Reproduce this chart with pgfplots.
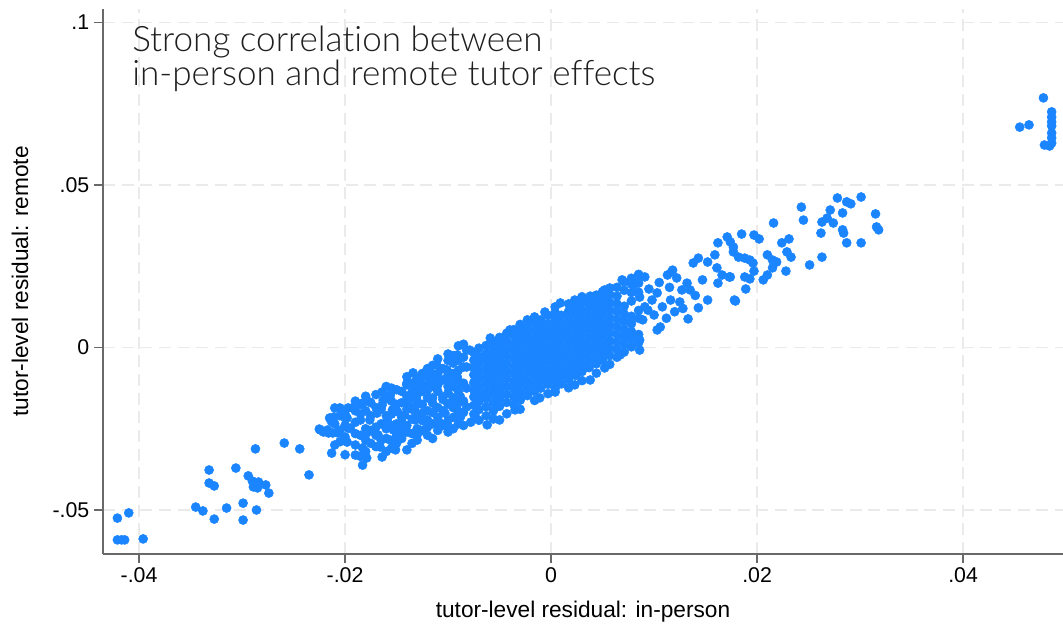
\documentclass[border=0pt]{standalone}
\usepackage{pgfplots}
\pgfplotsset{compat=1.18}
\usepackage{fontspec}
\setmainfont{Liberation Sans}
\newfontfamily\titlefont{Lato Light}[Ligatures=NoCommon]
\definecolor{dotblue}{RGB}{26,133,255}
\definecolor{gridgray}{RGB}{234,234,234}
\definecolor{axgray}{RGB}{105,105,105}
\pgfplotstableread{
x y
-0.0421 -0.0525
-0.0410 -0.0509
-0.0421 -0.0592
-0.0417 -0.0592
-0.0414 -0.0592
-0.0396 -0.0589
-0.0345 -0.0491
-0.0338 -0.0503
-0.0327 -0.0528
-0.0332 -0.0377
-0.0332 -0.0417
-0.0327 -0.0426
-0.0315 -0.0494
-0.0306 -0.0371
-0.0299 -0.0479
-0.0299 -0.0531
-0.0286 -0.0500
-0.0294 -0.0395
-0.0290 -0.0411
-0.0289 -0.0429
-0.0284 -0.0414
-0.0285 -0.0432
-0.0277 -0.0423
-0.0274 -0.0448
-0.0287 -0.0312
-0.0259 -0.0294
-0.0244 -0.0312
-0.0235 -0.0392
-0.0213 -0.0325
-0.0225 -0.0251
-0.0221 -0.0260
-0.0216 -0.0263
-0.0212 -0.0263
-0.0207 -0.0263
-0.0211 -0.0214
-0.0210 -0.0186
-0.0205 -0.0186
-0.0198 -0.0217
-0.0198 -0.0291
-0.0197 -0.0186
-0.0197 -0.0248
-0.0213 -0.0229
-0.0224 -0.0254
-0.0215 -0.0217
-0.0217 -0.0254
-0.0207 -0.0260
-0.0200 -0.0217
-0.0193 -0.0186
-0.0195 -0.0248
-0.0190 -0.0331
-0.0183 -0.0309
-0.0179 -0.0340
-0.0183 -0.0362
-0.0183 -0.0171
-0.0176 -0.0168
-0.0176 -0.0223
-0.0185 -0.0223
-0.0179 -0.0263
-0.0168 -0.0269
-0.0169 -0.0202
-0.0164 -0.0137
-0.0164 -0.0177
-0.0156 -0.0146
-0.0159 -0.0223
-0.0154 -0.0192
-0.0166 -0.0306
-0.0164 -0.0337
-0.0156 -0.0285
-0.0151 -0.0315
-0.0153 -0.0254
-0.0147 -0.0275
-0.0145 -0.0229
-0.0142 -0.0208
-0.0149 -0.0198
-0.0139 -0.0171
-0.0145 -0.0254
-0.0135 -0.0137
-0.0134 -0.0078
-0.0127 -0.0115
-0.0130 -0.0146
-0.0132 -0.0183
-0.0132 -0.0223
-0.0130 -0.0269
-0.0125 -0.0202
-0.0120 -0.0131
-0.0117 -0.0078
-0.0111 -0.0054
-0.0120 -0.0223
-0.0115 -0.0171
-0.0113 -0.0122
-0.0117 -0.0100
-0.0108 -0.0100
-0.0105 -0.0152
-0.0108 -0.0232
-0.0100 -0.0245
-0.0103 -0.0202
-0.0101 -0.0069
-0.0098 -0.0106
-0.0095 -0.0048
-0.0091 -0.0023
-0.0091 -0.0091
-0.0088 -0.0152
-0.0091 -0.0192
-0.0088 -0.0214
-0.0082 -0.0008
-0.0082 -0.0060
-0.0082 -0.0125
-0.0082 -0.0183
-0.0091 -0.0125
-0.0098 -0.0171
-0.0134 -0.0109
-0.0127 -0.0100
-0.0140 -0.0115
-0.0163 -0.0162
-0.0210 -0.0300
-0.0210 -0.0235
-0.0200 -0.0330
-0.0200 -0.0275
-0.0200 -0.0240
-0.0200 -0.0205
-0.0190 -0.0300
-0.0190 -0.0265
-0.0190 -0.0230
-0.0190 -0.0195
-0.0190 -0.0165
-0.0180 -0.0320
-0.0180 -0.0285
-0.0180 -0.0250
-0.0180 -0.0195
-0.0180 -0.0150
-0.0170 -0.0305
-0.0170 -0.0270
-0.0170 -0.0245
-0.0170 -0.0185
-0.0170 -0.0145
-0.0160 -0.0320
-0.0160 -0.0280
-0.0160 -0.0250
-0.0160 -0.0210
-0.0160 -0.0155
-0.0160 -0.0120
-0.0150 -0.0295
-0.0150 -0.0270
-0.0150 -0.0235
-0.0150 -0.0175
-0.0150 -0.0130
-0.0140 -0.0315
-0.0140 -0.0260
-0.0140 -0.0240
-0.0140 -0.0190
-0.0140 -0.0150
-0.0140 -0.0110
-0.0140 -0.0090
-0.0130 -0.0285
-0.0130 -0.0250
-0.0130 -0.0205
-0.0130 -0.0165
-0.0130 -0.0125
-0.0130 -0.0095
-0.0120 -0.0270
-0.0120 -0.0245
-0.0120 -0.0195
-0.0120 -0.0155
-0.0120 -0.0115
-0.0120 -0.0090
-0.0120 -0.0065
-0.0110 -0.0255
-0.0110 -0.0215
-0.0110 -0.0185
-0.0110 -0.0135
-0.0110 -0.0115
-0.0110 -0.0080
-0.0110 -0.0035
-0.0100 -0.0260
-0.0100 -0.0225
-0.0100 -0.0175
-0.0100 -0.0140
-0.0100 -0.0120
-0.0100 -0.0085
-0.0100 -0.0040
-0.0100 -0.0020
-0.0090 -0.0235
-0.0090 -0.0205
-0.0090 -0.0170
-0.0090 -0.0135
-0.0090 -0.0105
-0.0090 -0.0070
-0.0090 -0.0040
-0.0090 0.0005
-0.0205 -0.0290
-0.0205 -0.0255
-0.0205 -0.0210
-0.0185 -0.0270
-0.0185 -0.0205
-0.0185 -0.0175
-0.0185 -0.0335
-0.0175 -0.0295
-0.0175 -0.0255
-0.0175 -0.0210
-0.0175 -0.0170
-0.0165 -0.0285
-0.0165 -0.0235
-0.0165 -0.0190
-0.0155 -0.0310
-0.0155 -0.0240
-0.0155 -0.0205
-0.0155 -0.0165
-0.0155 -0.0125
-0.0145 -0.0280
-0.0145 -0.0215
-0.0145 -0.0170
-0.0145 -0.0135
-0.0135 -0.0295
-0.0135 -0.0265
-0.0135 -0.0220
-0.0135 -0.0190
-0.0135 -0.0155
-0.0135 -0.0115
-0.0125 -0.0255
-0.0125 -0.0225
-0.0125 -0.0175
-0.0125 -0.0135
-0.0125 -0.0080
-0.0115 -0.0280
-0.0115 -0.0235
-0.0115 -0.0200
-0.0115 -0.0155
-0.0115 -0.0095
-0.0115 -0.0055
-0.0105 -0.0240
-0.0105 -0.0195
-0.0105 -0.0160
-0.0105 -0.0100
-0.0105 -0.0065
-0.0095 -0.0250
-0.0095 -0.0215
-0.0095 -0.0185
-0.0095 -0.0155
-0.0095 -0.0120
-0.0095 -0.0080
-0.0095 -0.0025
-0.0085 -0.0240
-0.0085 -0.0200
-0.0085 -0.0165
-0.0085 -0.0110
-0.0085 -0.0060
-0.0085 -0.0030
-0.0085 0.0010
-0.0078 -0.0230
-0.0075 -0.0205
-0.0075 -0.0178
-0.0075 -0.0152
-0.0075 -0.0131
-0.0075 -0.0108
-0.0075 -0.0084
-0.0075 -0.0061
-0.0075 -0.0039
-0.0075 -0.0015
-0.0070 -0.0224
-0.0070 -0.0191
-0.0070 -0.0166
-0.0070 -0.0143
-0.0070 -0.0119
-0.0070 -0.0095
-0.0070 -0.0072
-0.0070 -0.0048
-0.0070 -0.0027
-0.0070 -0.0002
-0.0063 -0.0210
-0.0063 -0.0182
-0.0063 -0.0157
-0.0063 -0.0134
-0.0063 -0.0110
-0.0063 -0.0087
-0.0063 -0.0064
-0.0063 -0.0041
-0.0063 -0.0018
-0.0063 0.0006
-0.0056 -0.0220
-0.0056 -0.0195
-0.0056 -0.0170
-0.0056 -0.0145
-0.0056 -0.0122
-0.0056 -0.0098
-0.0056 -0.0075
-0.0056 -0.0052
-0.0056 -0.0029
-0.0056 -0.0006
-0.0056 0.0017
-0.0050 -0.0181
-0.0050 -0.0156
-0.0050 -0.0132
-0.0050 -0.0109
-0.0050 -0.0085
-0.0050 -0.0062
-0.0050 -0.0039
-0.0050 -0.0015
-0.0050 0.0009
-0.0050 0.0031
-0.0043 -0.0204
-0.0043 -0.0169
-0.0043 -0.0144
-0.0043 -0.0120
-0.0043 -0.0096
-0.0043 -0.0073
-0.0043 -0.0050
-0.0043 -0.0026
-0.0043 -0.0003
-0.0043 0.0020
-0.0043 0.0044
-0.0036 -0.0176
-0.0036 -0.0152
-0.0036 -0.0128
-0.0036 -0.0105
-0.0036 -0.0081
-0.0036 -0.0058
-0.0036 -0.0034
-0.0036 -0.0011
-0.0036 0.0012
-0.0036 0.0036
-0.0036 0.0055
-0.0030 -0.0190
-0.0030 -0.0160
-0.0030 -0.0137
-0.0030 -0.0113
-0.0030 -0.0090
-0.0030 -0.0066
-0.0030 -0.0043
-0.0030 -0.0020
-0.0030 0.0004
-0.0030 0.0027
-0.0030 0.0050
-0.0030 0.0071
-0.0023 -0.0148
-0.0023 -0.0124
-0.0023 -0.0101
-0.0023 -0.0077
-0.0023 -0.0054
-0.0023 -0.0031
-0.0023 -0.0007
-0.0023 0.0016
-0.0023 0.0039
-0.0023 0.0062
-0.0016 -0.0163
-0.0016 -0.0135
-0.0016 -0.0112
-0.0016 -0.0088
-0.0016 -0.0065
-0.0016 -0.0042
-0.0016 -0.0018
-0.0016 0.0005
-0.0016 0.0028
-0.0016 0.0052
-0.0016 0.0076
-0.0016 0.0094
-0.0010 -0.0125
-0.0010 -0.0101
-0.0010 -0.0078
-0.0010 -0.0055
-0.0010 -0.0031
-0.0010 -0.0008
-0.0010 0.0015
-0.0010 0.0039
-0.0010 0.0062
-0.0010 0.0085
-0.0003 -0.0142
-0.0003 -0.0113
-0.0003 -0.0090
-0.0003 -0.0067
-0.0003 -0.0043
-0.0003 -0.0020
-0.0003 0.0003
-0.0003 0.0027
-0.0003 0.0050
-0.0003 0.0073
-0.0003 0.0099
0.0004 -0.0126
0.0004 -0.0102
0.0004 -0.0079
0.0004 -0.0055
0.0004 -0.0032
0.0004 -0.0009
0.0004 0.0015
0.0004 0.0038
0.0004 0.0061
0.0004 0.0085
0.0004 0.0108
0.0004 0.0125
0.0010 -0.0112
0.0010 -0.0088
0.0010 -0.0065
0.0010 -0.0041
0.0010 -0.0018
0.0010 0.0005
0.0010 0.0029
0.0010 0.0052
0.0010 0.0075
0.0010 0.0099
0.0017 -0.0124
0.0017 -0.0099
0.0017 -0.0076
0.0017 -0.0053
0.0017 -0.0029
0.0017 -0.0006
0.0017 0.0018
0.0017 0.0041
0.0017 0.0064
0.0017 0.0088
0.0017 0.0111
0.0017 0.0134
0.0024 -0.0086
0.0024 -0.0063
0.0024 -0.0040
0.0024 -0.0016
0.0024 0.0007
0.0024 0.0030
0.0024 0.0054
0.0024 0.0077
0.0024 0.0101
0.0024 0.0124
0.0030 -0.0102
0.0030 -0.0074
0.0030 -0.0051
0.0030 -0.0027
0.0030 -0.0004
0.0030 0.0019
0.0030 0.0043
0.0030 0.0066
0.0030 0.0089
0.0030 0.0113
0.0030 0.0138
0.0030 0.0156
0.0037 -0.0062
0.0037 -0.0039
0.0037 -0.0015
0.0037 0.0008
0.0037 0.0031
0.0037 0.0055
0.0037 0.0078
0.0037 0.0101
0.0037 0.0125
0.0037 0.0146
0.0044 -0.0079
0.0044 -0.0050
0.0044 -0.0027
0.0044 -0.0003
0.0044 0.0020
0.0044 0.0043
0.0044 0.0067
0.0044 0.0090
0.0044 0.0113
0.0044 0.0137
0.0044 0.0161
0.0050 -0.0038
0.0050 -0.0014
0.0050 0.0009
0.0050 0.0032
0.0050 0.0056
0.0050 0.0079
0.0050 0.0103
0.0050 0.0126
0.0050 0.0149
0.0050 0.0172
0.0057 -0.0052
0.0057 -0.0025
0.0057 -0.0002
0.0057 0.0021
0.0057 0.0045
0.0057 0.0068
0.0057 0.0091
0.0057 0.0115
0.0057 0.0138
0.0057 0.0162
0.0057 0.0183
0.0064 -0.0030
0.0064 -0.0006
0.0064 0.0017
0.0064 0.0041
0.0064 0.0064
0.0064 0.0087
0.0064 0.0111
0.0064 0.0134
0.0064 0.0158
0.0064 0.0185
0.0071 -0.0014
0.0071 0.0010
0.0071 0.0033
0.0071 0.0056
0.0071 0.0080
0.0071 0.0103
0.0071 0.0127
0.0071 0.0176
0.0071 0.0202
0.0078 0.0002
0.0078 0.0026
0.0078 0.0049
0.0078 0.0073
0.0078 0.0096
0.0078 0.0143
0.0078 0.0169
0.0078 0.0195
0.0078 0.0213
0.0085 0.0015
0.0085 0.0040
0.0085 0.0090
0.0085 0.0114
0.0085 0.0170
0.0085 0.0198
0.0085 0.0225
-0.0074 -0.0208
-0.0062 -0.0238
-0.0050 -0.0223
-0.0035 -0.0192
-0.0030 -0.0162
-0.0011 -0.0155
0.0004 -0.0137
0.0023 -0.0115
0.0038 -0.0100
0.0052 -0.0063
0.0067 -0.0023
0.0086 -0.0008
-0.0079 -0.0008
-0.0059 0.0029
-0.0040 0.0054
-0.0023 0.0085
-0.0006 0.0109
0.0009 0.0137
0.0023 0.0146
0.0038 0.0158
0.0052 0.0177
0.0031 0.0140
0.0069 0.0208
0.0084 0.0217
0.0091 0.0217
0.0080 0.0192
0.0103 0.0168
0.0098 0.0146
0.0091 0.0125
0.0108 0.0125
0.0106 0.0063
0.0116 0.0146
0.0117 0.0232
0.0122 0.0214
0.0127 0.0177
0.0132 0.0198
0.0125 0.0140
0.0135 0.0177
0.0133 0.0088
0.0143 0.0122
0.0147 0.0208
0.0152 0.0146
0.0143 0.0275
0.0138 0.0260
0.0152 0.0263
0.0159 0.0285
0.0161 0.0245
0.0166 0.0223
0.0162 0.0198
0.0173 0.0217
0.0178 0.0146
0.0162 0.0322
0.0171 0.0340
0.0177 0.0309
0.0086 0.0155
0.0094 0.0115
0.0089 0.0085
0.0103 0.0054
0.0077 0.0032
0.0086 0.0023
0.0113 0.0223
0.0118 0.0238
0.0095 0.0180
0.0100 0.0100
0.0112 0.0090
0.0120 0.0110
0.0105 0.0200
0.0115 0.0185
0.0128 0.0120
0.0140 0.0160
0.0185 0.0349
0.0197 0.0346
0.0202 0.0334
0.0216 0.0383
0.0224 0.0322
0.0231 0.0334
0.0229 0.0294
0.0233 0.0278
0.0210 0.0285
0.0215 0.0269
0.0219 0.0263
0.0215 0.0245
0.0206 0.0208
0.0210 0.0223
0.0228 0.0235
0.0251 0.0254
0.0263 0.0278
0.0262 0.0352
0.0263 0.0386
0.0268 0.0398
0.0271 0.0423
0.0278 0.0460
0.0287 0.0448
0.0291 0.0442
0.0301 0.0463
0.0243 0.0432
0.0245 0.0392
0.0274 0.0383
0.0283 0.0414
0.0283 0.0362
0.0284 0.0352
0.0287 0.0322
0.0301 0.0322
0.0315 0.0411
0.0316 0.0371
0.0318 0.0362
0.0174 0.0325
0.0177 0.0294
0.0182 0.0278
0.0188 0.0275
0.0193 0.0269
0.0196 0.0260
0.0197 0.0235
0.0188 0.0217
0.0193 0.0211
0.0189 0.0180
0.0179 0.0143
0.0174 0.0217
0.0478 0.0768
0.0455 0.0678
0.0464 0.0685
0.0486 0.0725
0.0486 0.0709
0.0486 0.0694
0.0486 0.0682
0.0486 0.0660
0.0486 0.0645
0.0486 0.0629
0.0479 0.0623
0.0484 0.0620
}\residuals
\begin{document}
\begin{tikzpicture}
\begin{axis}[
  name=ax,
  scale only axis,
  width=720pt, height=408.75pt,
  xmin=-0.0435, xmax=0.0497,
  ymin=-0.06354, ymax=0.10415,
  axis x line=bottom, axis y line=left,
  axis line style={-, draw=axgray, line width=0.9pt},
  xtick={-0.04,-0.02,0,0.02,0.04},
  xticklabels={-.04,-.02,0,.02,.04},
  ytick={-0.05,0,0.05,0.1},
  yticklabels={-.05,0,.05,.1},
  scaled ticks=false,
  tick align=outside,
  major tick length=6.75pt,
  tick style={draw=axgray, line width=0.9pt},
  ticklabel style={font=\fontsize{16}{19}\selectfont, text=black},
  grid=major,
  major grid style={draw=gridgray, line width=1pt, dash pattern=on 9pt off 5pt},
  xlabel={tutor-level residual: in-person},
  ylabel={tutor-level residual: remote},
  label style={font=\fontsize{17}{20}\selectfont},
  xlabel style={at={(axis description cs:0.5,-0.1174)}, anchor=base},
  ylabel style={at={(axis description cs:-0.0865,0.5)}, anchor=center},
  clip=true,
]
\addplot[only marks, mark=*, mark size=3.4pt, color=dotblue, mark options={draw=none, fill=dotblue}] table[x=x, y=y] {\residuals};
\node[anchor=base west, inner sep=0pt, font=\titlefont\fontsize{26.3}{30}\selectfont, text=black!88] at (rel axis cs:0.0302,0.9211) {Strong correlation between};
\node[anchor=base west, inner sep=0pt, font=\titlefont\fontsize{26.3}{30}\selectfont, text=black!88] at (rel axis cs:0.0302,0.8587) {in-person and remote tutor effects};
\end{axis}
\pgfresetboundingbox
\path ([xshift=-77.25pt,yshift=-52.5pt]ax.south west) rectangle ([yshift=6.75pt]ax.north east);
\end{tikzpicture}
\end{document}
